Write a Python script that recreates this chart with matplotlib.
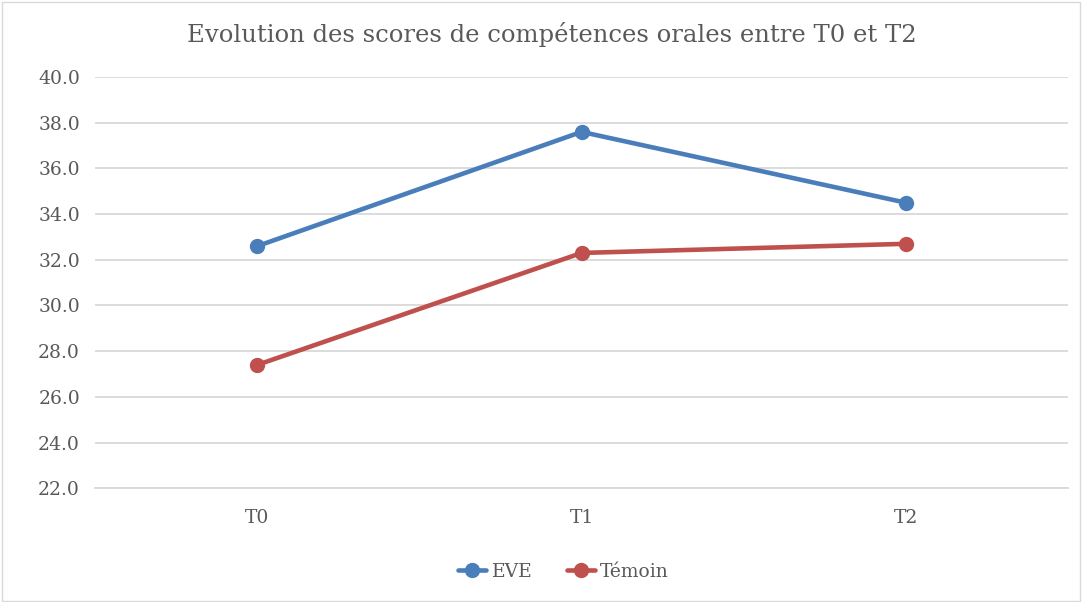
import matplotlib.pyplot as plt
from matplotlib.patches import Rectangle

categories = ['T0', 'T1', 'T2']
eve = [32.6, 37.6, 34.5]
temoin = [27.4, 32.3, 32.7]
yticks = [22.0, 24.0, 26.0, 28.0, 30.0, 32.0, 34.0, 36.0, 38.0, 40.0]

plt.rcParams['font.family'] = ['DejaVu Serif']
text_color = '#595959'
grid_color = '#d9d9d9'

fig = plt.figure(figsize=(10.82, 6.02), dpi=100)
ax = fig.add_axes([0.088, 0.189, 0.899, 0.683])

x = range(len(categories))
ax.plot(x, eve, '-o', color='#4a7ebb', lw=3.3, ms=10, label='EVE', solid_capstyle='round')
ax.plot(x, temoin, '-o', color='#c0504d', lw=3.3, ms=10, label='Témoin', solid_capstyle='round')

ax.set_xlim(-0.5, 2.5)
ax.set_ylim(22, 40)
ax.set_xticks(list(x))
ax.set_xticklabels(categories)
ax.set_yticks(yticks)
ax.set_yticklabels([f'{v:.1f}' for v in yticks])
ax.tick_params(axis='both', length=0, labelsize=13.5, colors=text_color)
ax.tick_params(axis='x', pad=15)
ax.tick_params(axis='y', pad=11)
ax.grid(axis='y', color=grid_color, lw=1.3)
ax.set_axisbelow(True)
for s in ['top', 'right', 'left']:
    ax.spines[s].set_visible(False)
ax.spines['bottom'].set_color(grid_color)
ax.spines['bottom'].set_linewidth(1.3)

fig.text(0.51, 0.942, 'Evolution des scores de compétences orales entre T0 et T2',
         ha='center', va='center', fontsize=17.5, color=text_color)

fig.legend(loc='center', bbox_to_anchor=(0.521, 0.05), ncol=2, frameon=False,
           fontsize=13.5, labelcolor=text_color, handlelength=1.5, columnspacing=1.8,
           handletextpad=0.3)

fig.patches.append(Rectangle((0.002, 0.002), 0.996, 0.994, transform=fig.transFigure,
                             fill=False, edgecolor='#d9d9d9', lw=1))

fig.savefig('out.png', dpi=100)
